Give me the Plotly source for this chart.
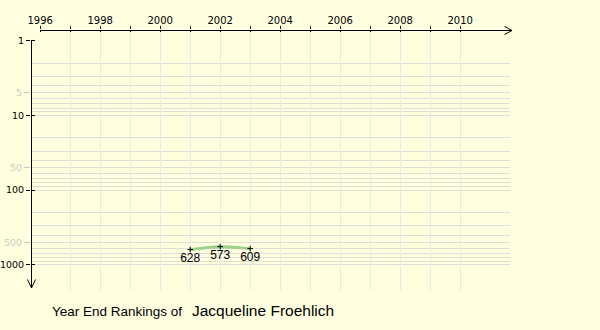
import plotly.graph_objects as go

# ---------------- data ----------------
years = [2001, 2002, 2003]
ranks = [628, 573, 609]
rank_labels = ["628", "573", "609"]

x_tick_years = list(range(1996, 2011))
x_tick_text = [str(y) if y % 2 == 0 else "" for y in x_tick_years]
x_grid_years = list(range(1997, 2011))

y_major = [1, 10, 100, 1000]
y_major_text = ["1", "10", "100", "1000"]
y_faint = [5, 50, 500]
y_faint_text = ["5", "50", "500"]
y_grid = [m * d for d in (1, 10, 100) for m in range(2, 10)] + [10, 100, 1000]

player = "Jacqueline Froehlich"
caption = "Year End Rankings of"

# ---------------- layout geometry ----------------
W, H = 600, 330
L, R, T, B = 31, 90, 30, 40
PW, PH = W - L - R, H - T - B
PX_YEAR = 30.0          # pixels per year
PX_DEC = 74.67          # pixels per decade
X_FIRST_PX = 40.2       # pixel of first year tick
Y_ONE_PX = 40.7         # pixel of rank 1

x_range = [x_tick_years[0] - (X_FIRST_PX - L) / PX_YEAR,
           x_tick_years[0] + (W - R - X_FIRST_PX) / PX_YEAR]
y_range = [(T + PH - Y_ONE_PX) / PX_DEC, -(Y_ONE_PX - T) / PX_DEC]


def pxx(p):
    return (p - L) / PW


def pxy(p):
    return (T + PH - p) / PH


BG = "#ffffe0"
HGRID = "#deded6"
VGRID = "#e9e9e6"
FAINT = "#cbcbc3"
GREEN = "#9dcf8d"
XTICKFONT = dict(family="DejaVu Sans", size=10, color="black")
YTICKFONT = dict(family="DejaVu Sans", size=9.5, color="black")

fig = go.Figure()
fig.add_trace(go.Scatter(
    x=years, y=ranks, mode="lines+markers+text",
    line=dict(color=GREEN, width=3, shape="spline"),
    marker=dict(symbol="cross-thin", size=4, color="black",
                line=dict(color="black", width=1)),
    text=rank_labels, textposition="bottom center",
    textfont=dict(family="Liberation Sans", size=12, color="black"),
    cliponaxis=False, hoverinfo="skip", showlegend=False,
))

# invisible carrier traces so that the helper (overlay) axes get drawn
for xa, ya in [("x2", "y"), ("x3", "y"), ("x", "y2"), ("x", "y3"), ("x", "y4")]:
    fig.add_trace(go.Scatter(
        x=years, y=ranks, xaxis=xa, yaxis=ya, mode="markers",
        marker=dict(opacity=0, size=1), hoverinfo="skip", showlegend=False,
    ))

common_x = dict(range=x_range, showline=False, zeroline=False,
                tickmode="array", fixedrange=True, automargin=False)
common_y = dict(type="log", range=y_range, showline=False, zeroline=False,
                tickmode="array", fixedrange=True, automargin=False)

fig.update_layout(
    template="none",
    width=W, height=H,
    margin=dict(l=L, r=R, t=T, b=B, pad=0),
    paper_bgcolor=BG, plot_bgcolor=BG,
    showlegend=False,
    xaxis=dict(**common_x, side="top", anchor="y",
               tickvals=x_tick_years, ticktext=x_tick_text,
               ticks="outside", ticklen=3, tickcolor="black", tickwidth=1,
               ticklabelstandoff=-2,
               showgrid=False, tickfont=XTICKFONT),
    xaxis2=dict(**common_x, side="top", anchor="y", overlaying="x",
                tickvals=x_tick_years, ticks="inside", ticklen=2,
                tickcolor="black", tickwidth=1, showticklabels=False, showgrid=False),
    xaxis3=dict(**common_x, side="top", anchor="y", overlaying="x",
                tickvals=x_grid_years, ticks="", showticklabels=False,
                showgrid=True, gridcolor=VGRID, gridwidth=1),
    yaxis=dict(**common_y, anchor="x",
               tickvals=y_major, ticktext=y_major_text,
               ticks="outside", ticklen=4, tickcolor="black", tickwidth=1,
               ticklabelstandoff=0,
               showgrid=False, tickfont=YTICKFONT),
    yaxis2=dict(**common_y, anchor="x", overlaying="y",
                tickvals=y_major, ticks="inside", ticklen=4, tickwidth=1,
                tickcolor="black", showticklabels=False, showgrid=False),
    yaxis3=dict(**common_y, anchor="x", overlaying="y",
                tickvals=y_faint, ticktext=y_faint_text,
                ticks="outside", ticklen=6, tickcolor=FAINT, tickwidth=1,
                ticklabelstandoff=0, showgrid=False,
                tickfont=dict(family="DejaVu Sans", size=9.5, color=FAINT)),
    yaxis4=dict(**common_y, anchor="x", overlaying="y",
                tickvals=y_grid, ticks="", showticklabels=False,
                showgrid=True, gridcolor=HGRID, gridwidth=1),
)

# axis lines with open arrow heads
line_style = dict(color="black", width=1)
shapes = [
    # x axis
    dict(type="line", xref="paper", yref="paper",
         x0=pxx(X_FIRST_PX), x1=pxx(512), y0=pxy(30.5), y1=pxy(30.5), line=line_style),
    dict(type="line", xref="paper", yref="paper",
         x0=pxx(504.5), x1=pxx(512), y0=pxy(26.5), y1=pxy(30.5), line=line_style),
    dict(type="line", xref="paper", yref="paper",
         x0=pxx(504.5), x1=pxx(512), y0=pxy(34.5), y1=pxy(30.5), line=line_style),
    # y axis
    dict(type="line", xref="paper", yref="paper",
         x0=pxx(31.5), x1=pxx(31.5), y0=pxy(Y_ONE_PX), y1=pxy(288), line=line_style),
    dict(type="line", xref="paper", yref="paper",
         x0=pxx(27.5), x1=pxx(31.5), y0=pxy(279.5), y1=pxy(288), line=line_style),
    dict(type="line", xref="paper", yref="paper",
         x0=pxx(35.5), x1=pxx(31.5), y0=pxy(279.5), y1=pxy(288), line=line_style),
]
for s in shapes:
    s["layer"] = "above"
fig.update_layout(shapes=shapes)

fig.add_annotation(xref="paper", yref="paper", x=pxx(50), y=pxy(311),
                   xanchor="left", yanchor="middle", showarrow=False,
                   text=caption,
                   font=dict(family="Liberation Sans", size=13.5, color="black"))
fig.add_annotation(xref="paper", yref="paper", x=pxx(190), y=pxy(310),
                   xanchor="left", yanchor="middle", showarrow=False,
                   text=player,
                   font=dict(family="Liberation Sans", size=15.5, color="black"))

fig.write_html("out.html")
